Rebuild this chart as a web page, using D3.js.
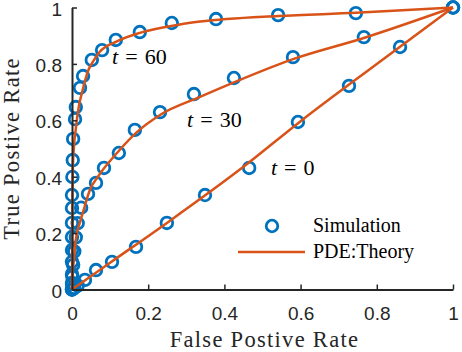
<!DOCTYPE html>
<html>
<head>
<meta charset="utf-8">
<script src="https://cdn.jsdelivr.net/npm/d3@7"></script>
<style>
  html, body { margin: 0; padding: 0; background: #fff; }
  svg { display: block; }
</style>
</head>
<body>
<svg id="chart" width="462" height="352"></svg>
<script>
// ---- data ----
const xTicks = [0, 0.2, 0.4, 0.6, 0.8, 1];
const yTicks = [0, 0.2, 0.4, 0.6, 0.8, 1];
const xTickLabels = ["0", "0.2", "0.4", "0.6", "0.8", "1"];
const yTickLabels = ["0", "0.2", "0.4", "0.6", "0.8", "1"];

// Simulation markers [FPR, TPR]
const simT0 = [[0,0],[0.002,0.002],[0.006,0.006],[0.015,0.014],[0.034,0.034],[0.063,0.069],[0.105,0.098],[0.168,0.151],[0.249,0.236],[0.349,0.335],[0.465,0.431],[0.593,0.594],[0.727,0.722],[0.861,0.860],[1,1]];
const simT30 = [[0,0],[0.0005,0.02],[0.001,0.045],[0.003,0.087],[0.006,0.135],[0.010,0.185],[0.015,0.235],[0.024,0.29],[0.042,0.339],[0.063,0.378],[0.084,0.431],[0.123,0.484],[0.165,0.566],[0.231,0.629],[0.320,0.693],[0.425,0.750],[0.580,0.824],[0.766,0.895],[1,1]];
const simT60 = [[0,0],[0,0.023],[0,0.055],[0,0.098],[0,0.140],[0,0.186],[0,0.236],[0,0.289],[0,0.335],[0.001,0.399],[0.002,0.459],[0.003,0.534],[0.008,0.604],[0.010,0.647],[0.021,0.715],[0.029,0.757],[0.052,0.814],[0.079,0.849],[0.115,0.885],[0.178,0.913],[0.262,0.945],[0.378,0.959],[0.541,0.973],[0.745,0.980],[1,1]];

// PDE theory curves [FPR, TPR]
const thT0 = [[0,0],[0.1,0.095],[0.25,0.237],[0.45,0.435],[0.6,0.597],[0.8,0.8],[1,1]];
const thT30 = [[0,0],[0.002,0.06],[0.005,0.105],[0.010,0.176],[0.021,0.239],[0.029,0.275],[0.047,0.353],[0.068,0.40],[0.118,0.484],[0.171,0.559],[0.231,0.619],[0.336,0.683],[0.433,0.739],[0.580,0.817],[0.766,0.892],[1,1]];
const thT60 = [[0,0],[0.001,0.3],[0.003,0.459],[0.0105,0.576],[0.018,0.65],[0.026,0.697],[0.042,0.775],[0.058,0.814],[0.073,0.843],[0.118,0.880],[0.178,0.910],[0.283,0.940],[0.336,0.950],[0.541,0.970],[0.745,0.981],[1,1]];

const curveLabels = [
  {t: "60", pos: [0.105, 0.8]},
  {t: "30", pos: [0.302, 0.577]},
  {t: "0",  pos: [0.522, 0.406]}
];
const legendNames = ["Simulation", "PDE:Theory"];

// ---- drawing ----
const blue = "#0072BD", orange = "#D95319", axisCol = "#262626";
const svg = d3.select("#chart");
const x = d3.scaleLinear().domain([0, 1]).range([72, 453]);
const y = d3.scaleLinear().domain([0, 1]).range([289.5, 7.5]);

const sims = [simT0, simT30, simT60];
const ths = [thT0, thT30, thT60];

const gM = svg.append("g");
sims.forEach(s => {
  gM.selectAll(null).data(s).enter().append("circle")
    .attr("cx", d => x(d[0])).attr("cy", d => y(d[1])).attr("r", 5.8)
    .attr("fill", "none").attr("stroke", blue).attr("stroke-width", 2.8);
});

const line = d3.line().x(d => x(d[0])).y(d => y(d[1])).curve(d3.curveMonotoneX);
ths.forEach(t => {
  svg.append("path").datum(t).attr("d", line)
    .attr("fill", "none").attr("stroke", orange).attr("stroke-width", 2.5);
});

// axes
const xAxis = svg.append("g").attr("transform", `translate(0,${y(0)})`)
  .call(d3.axisBottom(x).tickValues(xTicks).tickFormat((d, i) => xTickLabels[i])
    .tickSizeInner(-5).tickSizeOuter(0).tickPadding(17));
const yAxis = svg.append("g").attr("transform", `translate(${x(0)},0)`)
  .call(d3.axisLeft(y).tickValues(yTicks).tickFormat((d, i) => yTickLabels[i])
    .tickSizeInner(-5).tickSizeOuter(0).tickPadding(10));
[xAxis, yAxis].forEach(g => {
  g.attr("color", axisCol);
  g.select(".domain").attr("stroke-width", 2);
  g.selectAll(".tick line").attr("stroke-width", 1.5);
  g.selectAll("text").attr("font-family", "'Liberation Sans', Arial, sans-serif")
    .attr("font-size", 19).attr("fill", axisCol);
});
yAxis.selectAll("text").attr("dy", "0.4em");

// axis labels
const serif = "'Liberation Serif', 'Times New Roman', serif";
svg.append("text").attr("x", (x(0) + x(1)) / 2 + 2).attr("y", 347)
  .attr("text-anchor", "middle").attr("font-family", serif).attr("font-size", 22.5)
  .attr("letter-spacing", 1.3).attr("fill", axisCol).text("False Postive Rate");
svg.append("text").attr("transform", "translate(19,148.5) rotate(-90)")
  .attr("text-anchor", "middle").attr("font-family", serif).attr("font-size", 22.5)
  .attr("letter-spacing", 1.3).attr("fill", axisCol).text("True Postive Rate");

// curve labels
curveLabels.forEach(c => {
  const tx = svg.append("text").attr("x", x(c.pos[0])).attr("y", y(c.pos[1]))
    .attr("font-family", serif).attr("font-size", 22).attr("fill", "#000");
  tx.append("tspan").attr("font-style", "italic").text("t");
  tx.append("tspan").attr("dx", "0.32em").text("=");
  tx.append("tspan").attr("dx", "0.32em").text(c.t);
});

// legend
const lg = svg.append("g");
lg.append("circle").attr("cx", 272).attr("cy", 226).attr("r", 5.8)
  .attr("fill", "none").attr("stroke", blue).attr("stroke-width", 2.8);
lg.append("line").attr("x1", 238).attr("x2", 305).attr("y1", 252).attr("y2", 252)
  .attr("stroke", orange).attr("stroke-width", 2.5);
lg.selectAll("text.leg").data(legendNames).enter().append("text")
  .attr("x", 313).attr("y", (d, i) => 232 + i * 26)
  .attr("font-family", serif).attr("font-size", 20).attr("fill", "#000").text(d => d);
</script>
</body>
</html>
